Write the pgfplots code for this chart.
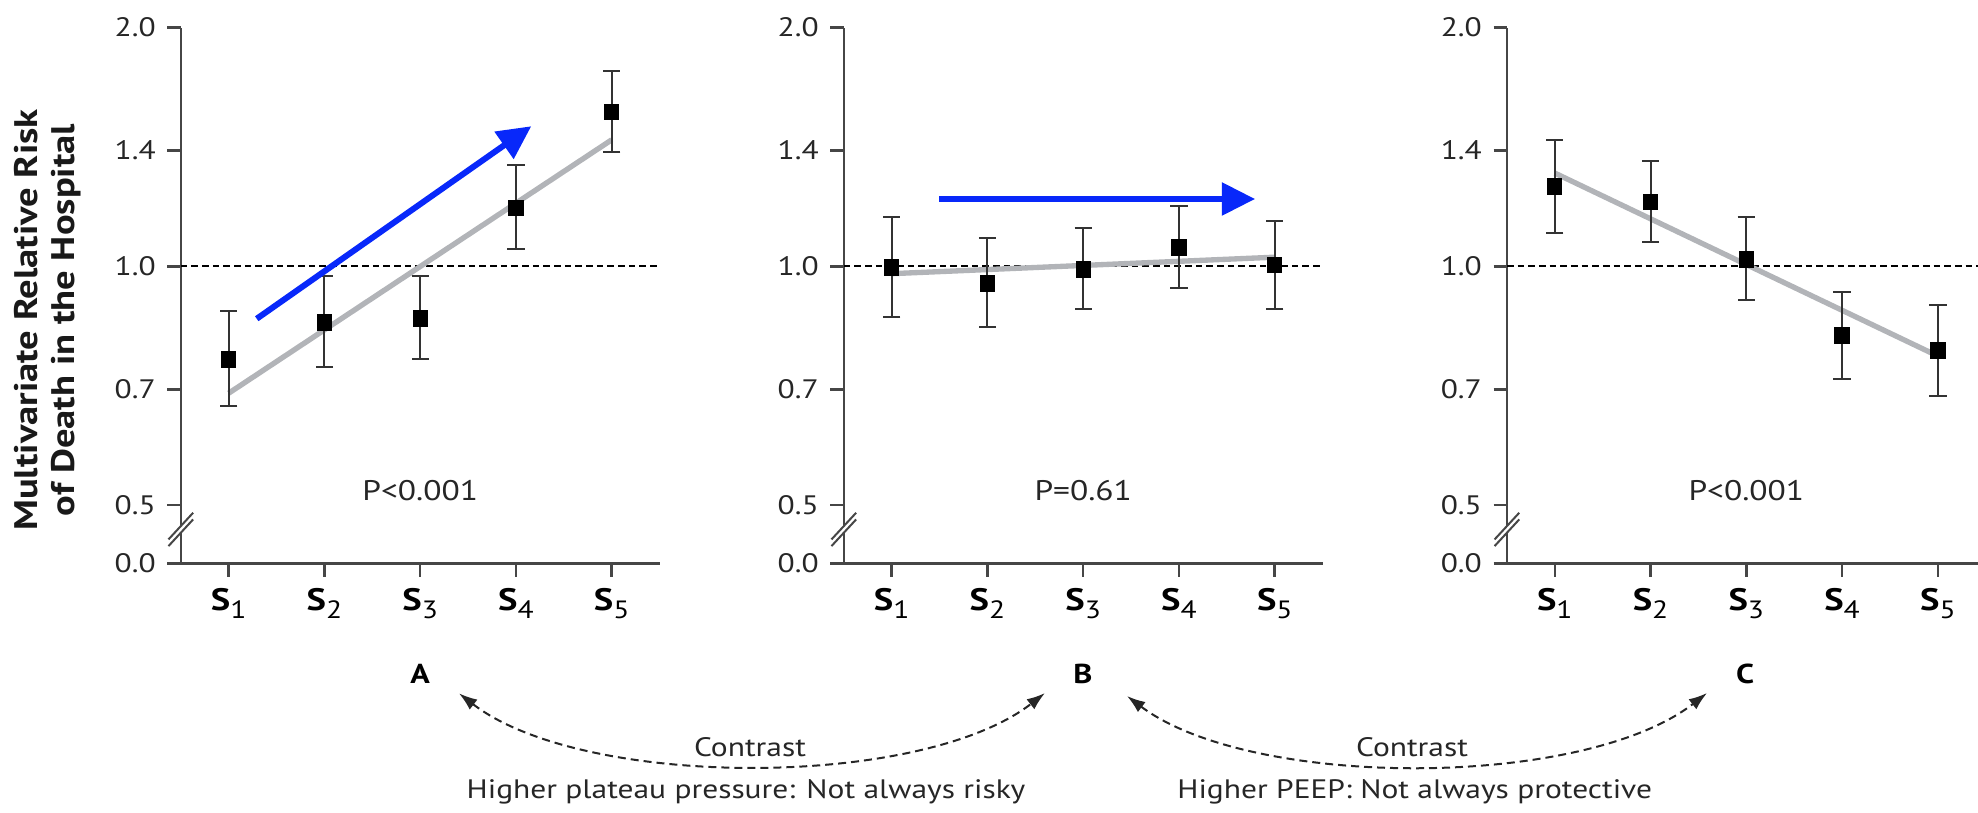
\documentclass[border=0pt]{standalone}
\usepackage{fontspec}
\setmainfont{PT Sans}[FakeStretch=1.18]
\usepackage{pgfplots}
\usepackage{pgfplotstable}
\pgfplotsset{compat=1.18}
\usetikzlibrary{arrows.meta}

\definecolor{trendgray}{RGB}{178,180,184}
\definecolor{arrowblue}{RGB}{8,40,250}
\definecolor{axisgray}{RGB}{70,70,70}

% relative risk by quintile: point estimate, lower and upper 95% limits
\pgfplotstableread{
x y lo hi
1 0.764 0.666 0.879
2 0.849 0.747 0.972
3 0.859 0.764 0.972
4 1.185 1.052 1.344
5 1.565 1.392 1.764
}\dataA
\pgfplotstableread{
x y lo hi
1 0.996 0.864 1.153
2 0.952 0.838 1.086
3 0.992 0.883 1.118
4 1.057 0.940 1.192
5 1.004 0.883 1.140
}\dataB
\pgfplotstableread{
x y lo hi
1 1.260 1.103 1.443
2 1.205 1.074 1.357
3 1.021 0.908 1.153
4 0.818 0.721 0.929
5 0.784 0.686 0.894
}\dataC

\newcommand{\Ss}[1]{S\raisebox{-2.4pt}{\fontsize{7.5}{8}\selectfont\mdseries #1}}

\tikzset{
  refline/.style={black, line width=0.55pt, dash pattern=on 2pt off 1.2pt},
  trend/.style={trendgray, line width=1.6pt},
  contrast/.style={black!85, line width=0.6pt, dash pattern=on 2.4pt off 1.5pt,
    {Latex[length=5.5pt,width=3.8pt]}-{Latex[length=5.5pt,width=3.8pt]}},
}

% break mark on the y axis between 0.0 and 0.5
\newcommand{\axisbreak}{%
  \fill[white] ([shift={(-3.7pt,-5pt)}]axis cs:0.5,0.466) -- ++(7.4pt,8pt) -- ++(0pt,2pt) -- ++(-7.4pt,-8pt) -- cycle;
  \draw[axisgray, line width=0.6pt] ([shift={(-3.7pt,-5pt)}]axis cs:0.5,0.466) -- ++(7.4pt,8pt);
  \draw[axisgray, line width=0.6pt] ([shift={(-3.7pt,-3pt)}]axis cs:0.5,0.466) -- ++(7.4pt,8pt);
}

% squares with asymmetric confidence limits
\newcommand{\riskpoints}[1]{%
  \addplot[black, only marks, mark=square*, mark size=2.1pt,
    mark options={yscale=1.1},
    error bars/y dir=both, error bars/y explicit,
    error bars/error bar style={black!80, line width=0.6pt},
    error bars/error mark options={black!80, line width=0.6pt, mark size=2.6pt, rotate=90}]
    table[x=x, y=y, y error plus expr=\thisrow{hi}-\thisrow{y}, y error minus expr=\thisrow{y}-\thisrow{lo}] {#1};
}

\begin{document}
\begin{tikzpicture}

% Panel A
\begin{axis}[at={(54.24pt,74.52pt)}, anchor=south west,
    scale only axis, width=143.64pt, height=160.8pt, clip=false,
    ymode=log, ymin=0.422, ymax=2.0, xmin=0.5, xmax=5.5,
    axis x line*=bottom, axis y line*=left,
    axis line style={axisgray, line width=0.75pt},
    tick align=outside, major tick length=4pt,
    tick style={axisgray, line width=0.75pt},
    xtick={1,2,3,4,5},
    xticklabels={\Ss{1},\Ss{2},\Ss{3},\Ss{4},\Ss{5}},
    ytick={0.422,0.5,0.7,1.0,1.4,2.0},
    yticklabels={0.0,0.5,0.7,1.0,1.4,2.0},
    yticklabel style={font=\fontsize{8}{9}\selectfont, text=black!85},
    xticklabel style={font=\fontsize{9.3}{10}\selectfont\bfseries, text=black}]
  \addplot[refline] coordinates {(0.5,1) (5.5,1)};
  \addplot[trend] coordinates {(1,0.692) (5,1.444)};
  \riskpoints{\dataA}
  \draw[arrowblue, line width=1.8pt, -{Triangle[length=10pt,width=9.6pt]}] (axis cs:1.293,0.859) -- (axis cs:4.16,1.502);
  \node[font=\fontsize{8.5}{9}\selectfont, text=black!85] at (axis cs:3,0.521) {P<0.001};
  \axisbreak
\end{axis}

% Panel B
\begin{axis}[at={(253.14pt,74.52pt)}, anchor=south west,
    scale only axis, width=143.64pt, height=160.8pt, clip=false,
    ymode=log, ymin=0.422, ymax=2.0, xmin=0.5, xmax=5.5,
    axis x line*=bottom, axis y line*=left,
    axis line style={axisgray, line width=0.75pt},
    tick align=outside, major tick length=4pt,
    tick style={axisgray, line width=0.75pt},
    xtick={1,2,3,4,5},
    xticklabels={\Ss{1},\Ss{2},\Ss{3},\Ss{4},\Ss{5}},
    ytick={0.422,0.5,0.7,1.0,1.4,2.0},
    yticklabels={0.0,0.5,0.7,1.0,1.4,2.0},
    yticklabel style={font=\fontsize{8}{9}\selectfont, text=black!85},
    xticklabel style={font=\fontsize{9.3}{10}\selectfont\bfseries, text=black}]
  \addplot[refline] coordinates {(0.5,1) (5.5,1)};
  \addplot[trend] coordinates {(1,0.979) (5,1.027)};
  \riskpoints{\dataB}
  \draw[arrowblue, line width=1.8pt, -{Triangle[length=10pt,width=9.6pt]}] (axis cs:1.498,1.216) -- (axis cs:4.795,1.216);
  \node[font=\fontsize{8.5}{9}\selectfont, text=black!85] at (axis cs:3,0.521) {P=0.61};
  \axisbreak
\end{axis}

% Panel C
\begin{axis}[at={(452.07pt,74.52pt)}, anchor=south west,
    scale only axis, width=143.64pt, height=160.8pt, clip=false,
    ymode=log, ymin=0.422, ymax=2.0, xmin=0.5, xmax=5.5,
    axis x line*=bottom, axis y line*=left,
    axis line style={axisgray, line width=0.75pt},
    tick align=outside, major tick length=4pt,
    tick style={axisgray, line width=0.75pt},
    xtick={1,2,3,4,5},
    xticklabels={\Ss{1},\Ss{2},\Ss{3},\Ss{4},\Ss{5}},
    ytick={0.422,0.5,0.7,1.0,1.4,2.0},
    yticklabels={0.0,0.5,0.7,1.0,1.4,2.0},
    yticklabel style={font=\fontsize{8}{9}\selectfont, text=black!85},
    xticklabel style={font=\fontsize{9.3}{10}\selectfont\bfseries, text=black}]
  \addplot[refline] coordinates {(0.5,1) (5.5,1)};
  \addplot[trend] coordinates {(1,1.311) (5,0.771)};
  \riskpoints{\dataC}
  \node[font=\fontsize{8.5}{9}\selectfont, text=black!85] at (axis cs:3,0.521) {P<0.001};
  \axisbreak
\end{axis}

% shared y label
\node[rotate=90, align=center, font=\fontsize{9.8}{11}\selectfont\bfseries, text=black!90]
  at (14.3pt,147.6pt) {Multivariate Relative Risk\\of Death in the Hospital};

% panel letters
\node[font=\fontsize{8.2}{9}\selectfont\bfseries] at (126pt,41.4pt) {A};
\node[font=\fontsize{8.2}{9}\selectfont\bfseries] at (324.9pt,41.4pt) {B};
\node[font=\fontsize{8.2}{9}\selectfont\bfseries] at (523.5pt,41.4pt) {C};

% contrast arrows
\draw[contrast] (137.7pt,35.6pt) .. controls (175pt,6.8pt) and (276.3pt,6.8pt) .. (313.5pt,35.7pt);
\draw[contrast] (338.1pt,34.8pt) .. controls (375.3pt,6.8pt) and (474.9pt,6.8pt) .. (512.1pt,35.7pt);

\node[anchor=base, font=\fontsize{8}{9}\selectfont, text=black!85] at (225pt,16.6pt) {Contrast};
\node[anchor=base, font=\fontsize{8}{9}\selectfont, text=black!85] at (423.6pt,16.6pt) {Contrast};
\node[anchor=base, font=\fontsize{8}{9}\selectfont, text=black!85] at (223.8pt,4.2pt) {Higher plateau pressure: Not always risky};
\node[anchor=base, font=\fontsize{8}{9}\selectfont, text=black!85] at (424.4pt,4.2pt) {Higher PEEP: Not always protective};

\pgfresetboundingbox
\path[use as bounding box] (0,0) rectangle (593.4pt,243.6pt);
\end{tikzpicture}
\end{document}
